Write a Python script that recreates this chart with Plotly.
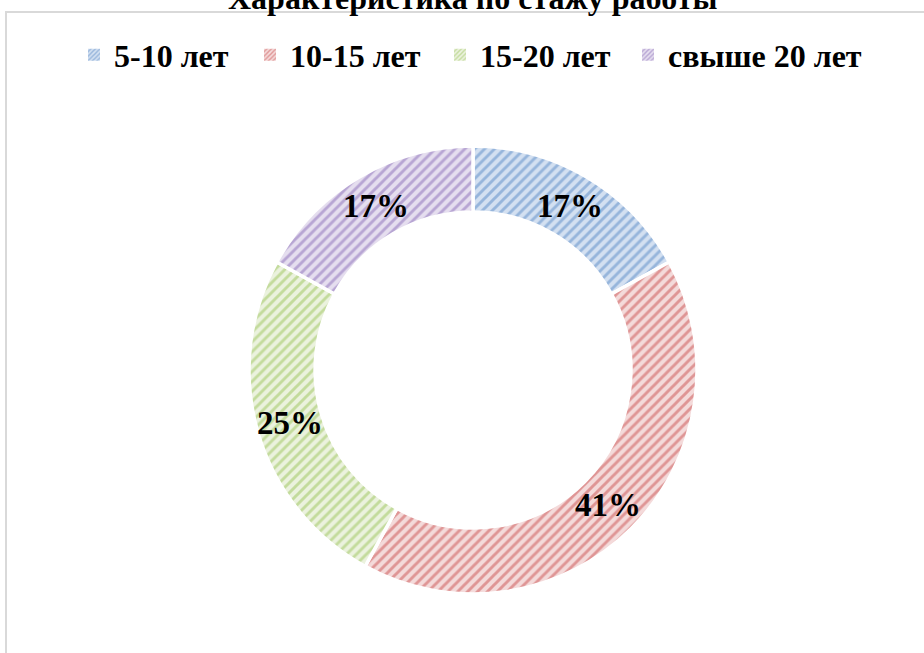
import math
import plotly.graph_objects as go

title_text = "Характеристика по стажу работы"
categories = ["5-10 лет", "10-15 лет", "15-20 лет", "свыше 20 лет"]
values = [17, 41, 25, 17]
fg_colors = ["#5A89C6", "#C9504F", "#9BC35A", "#8A6BB8"]
bg_colors = ["#D3E0F1", "#F4DADA", "#EBF2DE", "#E5DEEF"]

W, H = 924, 653
font_family = "Liberation Serif, Times New Roman, serif"

# pie geometry (pixels)
CX, CY, R_OUT = 473, 370, 224
HOLE = 0.705

# legend entry text start positions (pixels) in the reference
legend_text_x = [116, 292, 482, 670]

fig = go.Figure()
fig.add_trace(go.Pie(
    labels=categories,
    values=values,
    hole=HOLE,
    sort=False,
    direction="clockwise",
    rotation=0,
    textinfo="none",
    marker=dict(
        colors=bg_colors,
        line=dict(color="white", width=3.5),
        pattern=dict(shape="/", fgcolor=fg_colors, bgcolor=bg_colors,
                     size=7, solidity=0.42, fillmode="overlay"),
    ),
    domain=dict(x=[(CX - R_OUT) / W, (CX + R_OUT) / W],
                y=[1 - (CY + R_OUT) / H, 1 - (CY - R_OUT) / H]),
    showlegend=False,
    hoverinfo="label+percent",
))

# legend entries (one legend per category so spacing matches the reference)
legend_layouts = {}
for i, (name, fg, bg) in enumerate(zip(categories, fg_colors, bg_colors)):
    lname = "legend" if i == 0 else "legend%d" % (i + 1)
    fig.add_trace(go.Bar(
        x=[None], y=[None], name=name, legend=lname, showlegend=True,
        marker=dict(color=bg, line=dict(width=0),
                    pattern=dict(shape="/", fgcolor=fg, bgcolor=bg,
                                 size=4, solidity=0.45, fillmode="overlay")),
        hoverinfo="skip",
    ))
    legend_layouts[lname] = dict(
        orientation="h", x=(legend_text_x[i] - 42) / W, xanchor="left",
        y=1 - 55 / H, yanchor="middle", bgcolor="rgba(0,0,0,0)",
        font=dict(family=font_family, size=32, color="black", weight="bold"),
    )

# percentage labels placed at the middle of the ring for each slice
total = sum(values)
r_mid = R_OUT * (1 + HOLE) / 2
cum = 0
for v in values:
    mid = (cum + v / 2) / total * 2 * math.pi
    cum += v
    px = CX + r_mid * math.sin(mid)
    py = CY - r_mid * math.cos(mid)
    fig.add_annotation(
        x=px / W, y=1 - py / H, xref="paper", yref="paper",
        text="<b>%d%%</b>" % round(v / total * 100),
        showarrow=False, xanchor="center", yanchor="middle",
        font=dict(family=font_family, size=33, color="black"),
    )

# chart title (partly cut off at the top edge, as in the reference)
fig.add_annotation(
    x=473 / W, y=1 + 2 / H, xref="paper", yref="paper",
    text="<b>" + title_text + "</b>", showarrow=False,
    xanchor="center", yanchor="middle",
    font=dict(family=font_family, size=32, color="black"),
)

fig.add_shape(type="rect", xref="paper", yref="paper",
              x0=6 / W, x1=1.05, y0=-0.05, y1=1 - 12 / H,
              line=dict(color="#D9D9D9", width=2), fillcolor="rgba(0,0,0,0)",
              layer="below")

fig.update_layout(
    width=W, height=H,
    margin=dict(l=0, r=0, t=0, b=0),
    paper_bgcolor="white",
    plot_bgcolor="rgba(0,0,0,0)",
    xaxis=dict(visible=False),
    yaxis=dict(visible=False),
    **legend_layouts,
)

fig.write_html("out.html", config={"displayModeBar": False},
               post_script="document.body.style.margin='0';document.body.style.overflow='hidden';")
